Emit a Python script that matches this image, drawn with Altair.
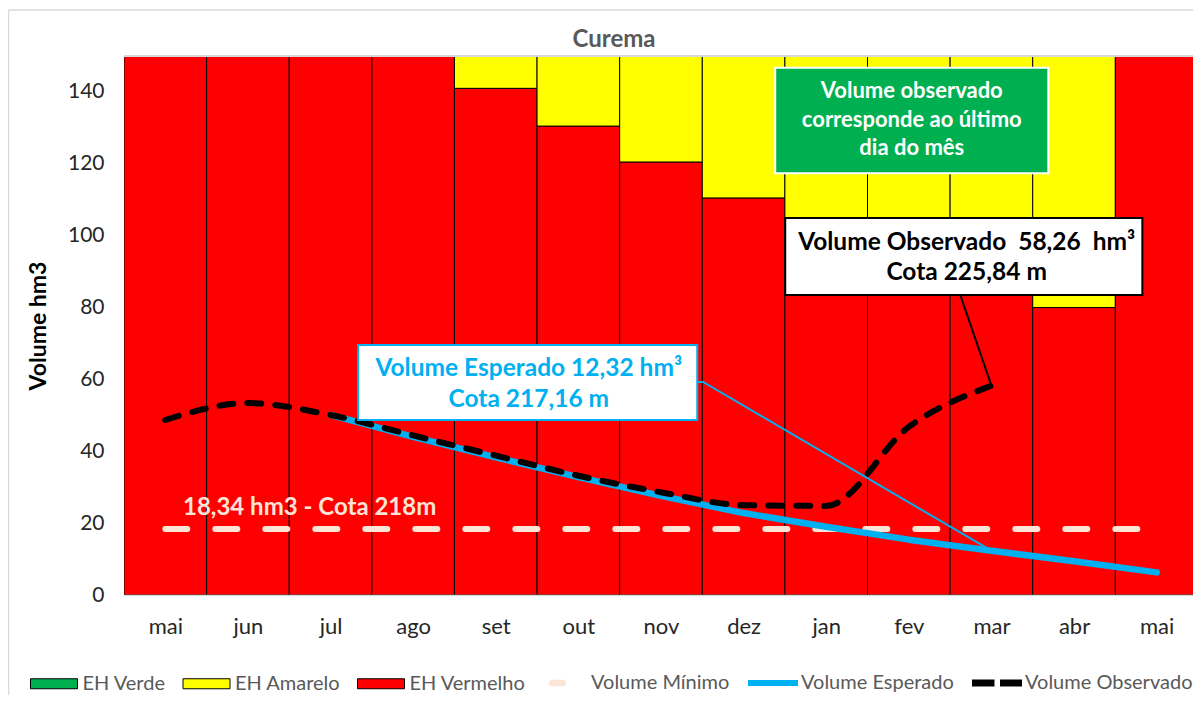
import altair as alt
import pandas as pd

# ---------------- data ----------------
MONTHS = ["mai", "jun", "jul", "ago", "set", "out", "nov", "dez", "jan", "fev", "mar", "abr", "mai"]
EH_VERMELHO = [150, 150, 150, 150, 141, 130.5, 120.5, 110.5, 100.5, 95, 90, 80, 150]
EH_AMARELO = [0, 0, 0, 0, 9, 19.5, 29.5, 39.5, 49.5, 55, 60, 70, 0]
EH_VERDE = [0, 0, 0, 0, 0, 0, 0, 0, 0, 0, 0, 0, 0]
VOLUME_MINIMO = [18.34] * 13
VOLUME_ESPERADO = [None, None, 50.1, 44.0, 38.3, 32.8, 27.6, 22.8, 19.0, 15.4, 12.32, 9.4, 6.3]
VOLUME_OBSERVADO = [48.7, 53.4, 50.1, 44.4, 38.8, 33.2, 28.6, 25.0, 24.8, 46.8, 58.26, None, None]
Y_TICKS = [0, 20, 40, 60, 80, 100, 120, 140]
Y_MAX = 150

BAR_SERIES = ["EH Verde", "EH Amarelo", "EH Vermelho"]
BAR_COLORS = ["#00B050", "#FFFF00", "#FF0000"]
LINE_SERIES = ["Volume Mínimo", "Volume Esperado", "Volume Observado"]
LINE_COLORS = ["#FCE4D6", "#00B0F0", "#000000"]

TITLE = "Curema"
Y_TITLE = "Volume hm3"
MIN_LABEL = "18,34 hm3 - Cota 218m"
NOTE_LINES = ["Volume observado", "corresponde ao último", "dia do mês"]
NBSP = "\u00a0"
OBS_LINES = [f"Volume Observado {NBSP}58,26 {NBSP}hm³", "Cota 225,84 m"]
ESP_LINES = ["Volume Esperado 12,32 hm³", "Cota 217,16 m"]

FONT = "Lato"
W, H = 1069, 539
X_RIGHT = 12.44  # the picture is cropped just before the end of the last month's band

# ---------------- tables ----------------
rows = []
for i, m in enumerate(MONTHS):
    base = 0
    for name, vals in (("EH Vermelho", EH_VERMELHO), ("EH Amarelo", EH_AMARELO), ("EH Verde", EH_VERDE)):
        v = vals[i]
        if v > 0:
            rows.append({"serie": name, "x0": i - 0.5, "x1": i + 0.5, "y0": base, "y1": base + v})
        base += v
bars_df = pd.DataFrame(rows)

def line_df(vals):
    return pd.DataFrame([{"x": i, "y": v} for i, v in enumerate(vals) if v is not None])

min_df = line_df(VOLUME_MINIMO)
esp_df = line_df(VOLUME_ESPERADO)
obs_df = line_df(VOLUME_OBSERVADO)

x_scale = alt.Scale(domain=[-0.5, X_RIGHT], nice=False, zero=False)
y_scale = alt.Scale(domain=[0, Y_MAX], nice=False, zero=True)

bar_color_scale = alt.Scale(domain=BAR_SERIES, range=BAR_COLORS)
line_fill_scale = alt.Scale(domain=LINE_SERIES, range=LINE_COLORS)
LINE_SHAPES = [
    "M-0.44,-0.13H0A0.13,0.13 0 0 1 0,0.13H-0.44A0.13,0.13 0 0 1 -0.44,-0.13Z",
    "M-1,-0.12H1V0.12H-1Z",
    "M-1,-0.14H-0.1V0.14H-1Z M0.12,-0.14H1V0.14H0.12Z",
]
line_shape_scale = alt.Scale(domain=LINE_SERIES, range=LINE_SHAPES)

x_axis = alt.Axis(
    values=list(range(len(MONTHS))),
    labelExpr="['" + "','".join(MONTHS) + "'][datum.value]",
    title=None, grid=False, ticks=False, domain=True, domainColor="#D9D9D9", domainWidth=1.5,
    labelFont=FONT, labelFontSize=22, labelColor="#262626", labelPadding=21, zindex=1,
)
y_axis = alt.Axis(
    values=Y_TICKS, title=Y_TITLE, grid=False, ticks=False, domain=False,
    labelFont=FONT, labelFontSize=21, labelColor="#262626", labelPadding=20,
    titleFont=FONT, titleFontSize=23, titleFontWeight="bold", titleColor="#000000", titlePadding=17,
)

bar_legend = alt.Legend(
    orient="none", legendX=-95.5, legendY=602, direction="horizontal", title=None,
    symbolType="M-0.94,-0.2H0.94V0.2H-0.94Z", symbolSize=2500,
    symbolStrokeColor="black", symbolStrokeWidth=1,
    labelFont=FONT, labelFontSize=20, labelColor="#595959", labelOffset=3, labelLimit=300,
    columnPadding=14.5, padding=0,
)

bars = alt.Chart(bars_df).mark_rect(stroke="black", strokeWidth=1, clip=True).encode(
    x=alt.X("x0:Q", scale=x_scale, axis=x_axis),
    x2="x1:Q",
    y=alt.Y("y0:Q", scale=y_scale, axis=y_axis),
    y2="y1:Q",
    color=alt.Color("serie:N", scale=bar_color_scale, legend=bar_legend),
)

def xq(f="x"):
    return alt.X(f"{f}:Q", scale=x_scale)

def yq(f="y"):
    return alt.Y(f"{f}:Q", scale=y_scale)

top_rule = alt.Chart(pd.DataFrame({"y": [Y_MAX]})).mark_rule(color="#D9D9D9", strokeWidth=2).encode(
    y=yq()
)

min_line = alt.Chart(min_df).mark_line(
    color=LINE_COLORS[0], strokeWidth=6, strokeDash=[22, 28], strokeCap="round"
).encode(x=xq(), y=yq())

esp_line = alt.Chart(esp_df).mark_line(
    color=LINE_COLORS[1], strokeWidth=6.5, strokeCap="round", strokeJoin="round"
).encode(x=xq(), y=yq())

obs_line = alt.Chart(obs_df).mark_line(
    color=LINE_COLORS[2], strokeWidth=6, strokeDash=[14, 14], strokeCap="round", interpolate="monotone"
).encode(x=xq(), y=yq())

min_label = alt.Chart(pd.DataFrame({"x": [0.214], "y": [24.2], "t": [MIN_LABEL]})).mark_text(
    align="left", baseline="middle", font=FONT, fontSize=24, fontWeight="bold", color="#FCE4D6"
).encode(x=xq(), y=yq(), text="t:N")

# leader lines (ending on the data points of "mar")
obs_leader = alt.Chart(pd.DataFrame({"x": [9.623, 10], "y": [83.5, VOLUME_OBSERVADO[10]], "o": [0, 1]})).mark_line(
    color="black", strokeWidth=2
).encode(x=xq(), y=yq(), order="o:Q")
esp_leader = alt.Chart(pd.DataFrame({"x": [6.43, 6.51, 10], "y": [59.3, 59.3, VOLUME_ESPERADO[10]], "o": [0, 1, 2]})).mark_line(
    color=LINE_COLORS[1], strokeWidth=2
).encode(x=xq(), y=yq(), order="o:Q")

def box(x0, x1, y0, y1, fill, stroke):
    return alt.Chart(pd.DataFrame({"x": [x0], "x1": [x1], "y": [y0], "y1": [y1]})).mark_rect(
        fill=fill, stroke=stroke, strokeWidth=2
    ).encode(x=xq(), x2="x1:Q", y=yq(), y2="y1:Q")

def lines_text(xc, ys, texts, color, size):
    return alt.Chart(pd.DataFrame({"x": [xc] * len(ys), "y": ys, "t": texts})).mark_text(
        align="center", baseline="middle", font=FONT, fontSize=size, fontWeight="bold", color=color
    ).encode(x=xq(), y=yq(), text="t:N")

note_box = box(7.383, 10.689, 117.4, 146.7, "#00B050", "#FFFFFF")
note_text = lines_text(9.036, [140.3, 132.2, 124.4], NOTE_LINES, "#FFFFFF", 22)
obs_box = box(7.504, 11.827, 83.5, 104.9, "#FFFFFF", "#000000")
obs_text = lines_text(9.70, [98.0, 89.6], OBS_LINES, "#000000", 24.5)
esp_box = box(2.334, 6.439, 48.7, 69.6, "#FFFFFF", LINE_COLORS[1])
esp_text = lines_text(4.40, [62.9, 54.3], ESP_LINES, LINE_COLORS[1], 24.5)

line_legend = alt.Legend(
    orient="none", legendX=414, legendY=602, direction="horizontal", title=None,
    symbolSize=2500, symbolStrokeWidth=0, symbolOpacity=1,
    labelFont=FONT, labelFontSize=20, labelColor="#595959", labelOffset=3, labelLimit=300,
    columnPadding=18, padding=0,
)
legend_pts = alt.Chart(pd.DataFrame({"serie": LINE_SERIES})).mark_point(filled=True, opacity=0).encode(
    x=alt.value(0), y=alt.value(0),
    fill=alt.Fill("serie:N", scale=line_fill_scale, legend=line_legend),
    shape=alt.Shape("serie:N", scale=line_shape_scale, legend=line_legend),
)

title_text = alt.Chart(pd.DataFrame({"t": [TITLE]})).mark_text(
    align="center", baseline="middle", font=FONT, fontSize=24, fontWeight="bold", color="#595959"
).encode(x=alt.value(490), y=alt.value(-16), text="t:N")

frame = alt.Chart(pd.DataFrame({"a": [0]}))
border_left = frame.mark_rule(color="#D9D9D9", strokeWidth=1.5).encode(
    x=alt.value(-115.5), y=alt.value(-46), y2=alt.value(H + 110)
)
border_top = frame.mark_rule(color="#D9D9D9", strokeWidth=1.5).encode(
    x=alt.value(-115.5), x2=alt.value(W), y=alt.value(-46)
)

chart = alt.layer(
    bars, top_rule, min_line, esp_line, obs_line, min_label,
    obs_leader, esp_leader, note_box, note_text, obs_box, obs_text, esp_box, esp_text,
    legend_pts, title_text, border_left, border_top,
).properties(
    width=W, height=H,
    autosize=alt.AutoSizeParams(type="none"),
    padding={"left": 116, "top": 48, "right": 0, "bottom": 100},
).configure_view(stroke=None).configure(background="white")

chart.save("out.html", embed_options={"renderer": "svg", "actions": False})
